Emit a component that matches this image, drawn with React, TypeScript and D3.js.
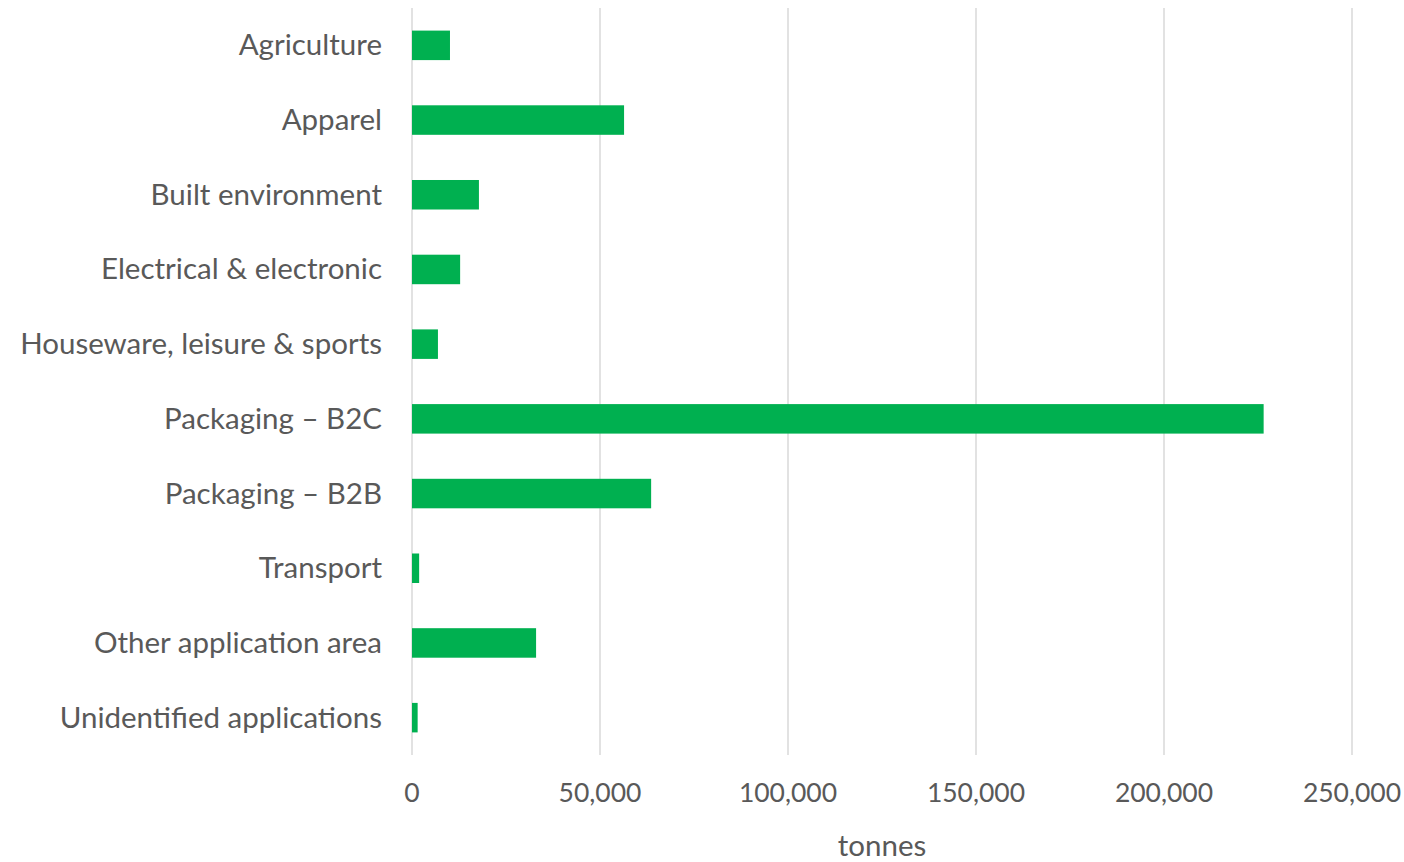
import React from "react";
import * as d3 from "d3";

const categories = [
  "Agriculture",
  "Apparel",
  "Built environment",
  "Electrical & electronic",
  "Houseware, leisure & sports",
  "Packaging – B2C",
  "Packaging – B2B",
  "Transport",
  "Other application area",
  "Unidentified applications",
];
const values = [10100, 56400, 17800, 12800, 6900, 226500, 63600, 1900, 33000, 1500];
const xTicks = [0, 50000, 100000, 150000, 200000, 250000];
const xTitle = "tonnes";

const W = 1404;
const H = 862;
const margin = { left: 412, right: 52, top: 8, bottom: 107 };
const FONT = "Lato, 'Open Sans', sans-serif";
const TEXT = "#595959";

export default function App() {
  const x = d3.scaleLinear().domain([0, 250000]).range([margin.left, W - margin.right]);
  const y = d3
    .scaleBand<string>()
    .domain(categories)
    .range([margin.top, H - margin.bottom])
    .paddingInner(0.605)
    .paddingOuter(0.3025);
  const fmt = d3.format(",");
  const bw = y.bandwidth();
  return (
    <svg width={W} height={H} style={{ position: "absolute", left: 0, top: 0, background: "#fff" }}>
      {xTicks.map((t) => (
        <line key={t} x1={x(t)} x2={x(t)} y1={margin.top} y2={H - margin.bottom} stroke="#d9d9d9" strokeWidth={1.5} />
      ))}
      {categories.map((c, i) => (
        <rect key={c} x={x(0)} y={y(c)} width={x(values[i]) - x(0)} height={bw} fill="#00b050" />
      ))}
      {categories.map((c) => (
        <text
          key={c}
          x={margin.left - 30}
          y={(y(c) as number) + bw / 2}
          dy="0.34em"
          textAnchor="end"
          fontFamily={FONT}
          fontSize={29.5}
          fill={TEXT}
        >
          {c}
        </text>
      ))}
      {xTicks.map((t) => (
        <text key={t} x={x(t)} y={802} textAnchor="middle" fontFamily={FONT} fontSize={26.5} fill={TEXT}>
          {fmt(t)}
        </text>
      ))}
      <text x={(x(0) + x(250000)) / 2} y={856} textAnchor="middle" fontFamily={FONT} fontSize={29.5} fill={TEXT}>
        {xTitle}
      </text>
    </svg>
  );
}
